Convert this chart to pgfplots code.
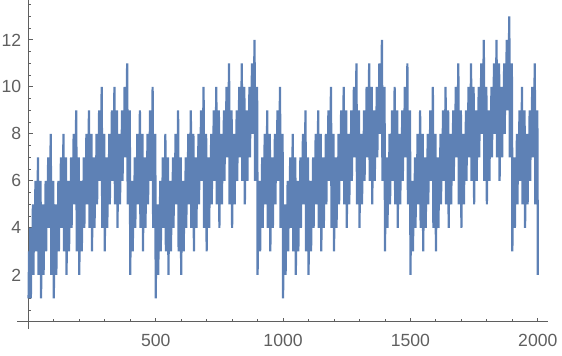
\documentclass[border=0pt]{standalone}
\usepackage{fontspec}
\setmainfont{Liberation Sans}
\usepackage{pgfplots}
\pgfplotsset{compat=1.18}
\usetikzlibrary{calc}
\definecolor{mblue}{RGB}{94,129,181}
\definecolor{axgray}{RGB}{95,95,95}
\begin{document}
\begin{tikzpicture}
\begin{axis}[
  name=ax,
  width=265.45pt, height=164.5pt, scale only axis,
  axis lines=middle,
  axis line style={-, axgray, line width=0.5pt},
  xmin=-44, xmax=2040, ymin=-0.3, ymax=13.7,
  xtick={500,1000,1500,2000},
  ytick={2,4,6,8,10,12},
  minor xtick={100,200,300,400,600,700,800,900,1100,1200,1300,1400,1600,1700,1800,1900},
  minor ytick={0.5,1,1.5,2.5,3,3.5,4.5,5,5.5,6.5,7,7.5,8.5,9,9.5,10.5,11,11.5,12.5,13,13.5},
  tick align=inside,
  major tick length=2.2pt, minor tick length=1.3pt,
  tick style={axgray, line width=0.45pt},
  ticklabel style={font=\fontsize{8.8}{10}\selectfont, text=axgray},
  xticklabel style={yshift=-2.5pt},
  /pgf/number format/assume math mode=true,
  /pgf/number format/1000 sep={},
  scaled ticks=false,
  clip=false,
]
\addplot[mblue, line width=1.1pt, line join=bevel, mark=none]
  table[header=false, row sep=\\, x expr=\coordindex+1, y index=0] {
1\\2\\3\\2\\1\\2\\3\\4\\2\\
1\\2\\3\\4\\3\\2\\3\\4\\5\\3\\
2\\3\\4\\5\\4\\3\\4\\5\\6\\4\\
3\\4\\5\\6\\5\\4\\5\\6\\7\\5\\
2\\3\\4\\5\\4\\3\\4\\5\\6\\4\\
1\\2\\3\\4\\3\\2\\3\\4\\5\\3\\
2\\3\\4\\5\\4\\3\\4\\5\\6\\4\\
3\\4\\5\\6\\5\\4\\5\\6\\7\\5\\
4\\5\\6\\7\\6\\5\\6\\7\\8\\6\\
2\\3\\4\\5\\4\\3\\4\\5\\6\\4\\
1\\2\\3\\4\\3\\2\\3\\4\\5\\3\\
2\\3\\4\\5\\4\\3\\4\\5\\6\\4\\
3\\4\\5\\6\\5\\4\\5\\6\\7\\5\\
4\\5\\6\\7\\6\\5\\6\\7\\8\\6\\
3\\4\\5\\6\\5\\4\\5\\6\\7\\5\\
2\\3\\4\\5\\4\\3\\4\\5\\6\\4\\
3\\4\\5\\6\\5\\4\\5\\6\\7\\5\\
4\\5\\6\\7\\6\\5\\6\\7\\8\\6\\
5\\6\\7\\8\\7\\6\\7\\8\\9\\7\\
3\\4\\5\\6\\5\\4\\5\\6\\7\\5\\
2\\3\\4\\5\\4\\3\\4\\5\\6\\4\\
3\\4\\5\\6\\5\\4\\5\\6\\7\\5\\
4\\5\\6\\7\\6\\5\\6\\7\\8\\6\\
5\\6\\7\\8\\7\\6\\7\\8\\9\\7\\
4\\5\\6\\7\\6\\5\\6\\7\\8\\6\\
3\\4\\5\\6\\5\\4\\5\\6\\7\\5\\
4\\5\\6\\7\\6\\5\\6\\7\\8\\6\\
5\\6\\7\\8\\7\\6\\7\\8\\9\\7\\
6\\7\\8\\9\\8\\7\\8\\9\\10\\8\\
4\\5\\6\\7\\6\\5\\6\\7\\8\\6\\
3\\4\\5\\6\\5\\4\\5\\6\\7\\5\\
4\\5\\6\\7\\6\\5\\6\\7\\8\\6\\
5\\6\\7\\8\\7\\6\\7\\8\\9\\7\\
6\\7\\8\\9\\8\\7\\8\\9\\10\\8\\
5\\6\\7\\8\\7\\6\\7\\8\\9\\7\\
4\\5\\6\\7\\6\\5\\6\\7\\8\\6\\
5\\6\\7\\8\\7\\6\\7\\8\\9\\7\\
6\\7\\8\\9\\8\\7\\8\\9\\10\\8\\
7\\8\\9\\10\\9\\8\\9\\10\\11\\9\\
5\\6\\7\\8\\7\\6\\7\\8\\9\\7\\
2\\3\\4\\5\\4\\3\\4\\5\\6\\4\\
3\\4\\5\\6\\5\\4\\5\\6\\7\\5\\
4\\5\\6\\7\\6\\5\\6\\7\\8\\6\\
5\\6\\7\\8\\7\\6\\7\\8\\9\\7\\
4\\5\\6\\7\\6\\5\\6\\7\\8\\6\\
3\\4\\5\\6\\5\\4\\5\\6\\7\\5\\
4\\5\\6\\7\\6\\5\\6\\7\\8\\6\\
5\\6\\7\\8\\7\\6\\7\\8\\9\\7\\
6\\7\\8\\9\\8\\7\\8\\9\\10\\8\\
4\\5\\6\\7\\6\\5\\6\\7\\8\\6\\
1\\2\\3\\4\\3\\2\\3\\4\\5\\3\\
2\\3\\4\\5\\4\\3\\4\\5\\6\\4\\
3\\4\\5\\6\\5\\4\\5\\6\\7\\5\\
4\\5\\6\\7\\6\\5\\6\\7\\8\\6\\
3\\4\\5\\6\\5\\4\\5\\6\\7\\5\\
2\\3\\4\\5\\4\\3\\4\\5\\6\\4\\
3\\4\\5\\6\\5\\4\\5\\6\\7\\5\\
4\\5\\6\\7\\6\\5\\6\\7\\8\\6\\
5\\6\\7\\8\\7\\6\\7\\8\\9\\7\\
3\\4\\5\\6\\5\\4\\5\\6\\7\\5\\
2\\3\\4\\5\\4\\3\\4\\5\\6\\4\\
3\\4\\5\\6\\5\\4\\5\\6\\7\\5\\
4\\5\\6\\7\\6\\5\\6\\7\\8\\6\\
5\\6\\7\\8\\7\\6\\7\\8\\9\\7\\
4\\5\\6\\7\\6\\5\\6\\7\\8\\6\\
3\\4\\5\\6\\5\\4\\5\\6\\7\\5\\
4\\5\\6\\7\\6\\5\\6\\7\\8\\6\\
5\\6\\7\\8\\7\\6\\7\\8\\9\\7\\
6\\7\\8\\9\\8\\7\\8\\9\\10\\8\\
4\\5\\6\\7\\6\\5\\6\\7\\8\\6\\
3\\4\\5\\6\\5\\4\\5\\6\\7\\5\\
4\\5\\6\\7\\6\\5\\6\\7\\8\\6\\
5\\6\\7\\8\\7\\6\\7\\8\\9\\7\\
6\\7\\8\\9\\8\\7\\8\\9\\10\\8\\
5\\6\\7\\8\\7\\6\\7\\8\\9\\7\\
4\\5\\6\\7\\6\\5\\6\\7\\8\\6\\
5\\6\\7\\8\\7\\6\\7\\8\\9\\7\\
6\\7\\8\\9\\8\\7\\8\\9\\10\\8\\
7\\8\\9\\10\\9\\8\\9\\10\\11\\9\\
5\\6\\7\\8\\7\\6\\7\\8\\9\\7\\
4\\5\\6\\7\\6\\5\\6\\7\\8\\6\\
5\\6\\7\\8\\7\\6\\7\\8\\9\\7\\
6\\7\\8\\9\\8\\7\\8\\9\\10\\8\\
7\\8\\9\\10\\9\\8\\9\\10\\11\\9\\
6\\7\\8\\9\\8\\7\\8\\9\\10\\8\\
5\\6\\7\\8\\7\\6\\7\\8\\9\\7\\
6\\7\\8\\9\\8\\7\\8\\9\\10\\8\\
7\\8\\9\\10\\9\\8\\9\\10\\11\\9\\
8\\9\\10\\11\\10\\9\\10\\11\\12\\10\\
6\\7\\8\\9\\8\\7\\8\\9\\10\\8\\
2\\3\\4\\5\\4\\3\\4\\5\\6\\4\\
3\\4\\5\\6\\5\\4\\5\\6\\7\\5\\
4\\5\\6\\7\\6\\5\\6\\7\\8\\6\\
5\\6\\7\\8\\7\\6\\7\\8\\9\\7\\
4\\5\\6\\7\\6\\5\\6\\7\\8\\6\\
3\\4\\5\\6\\5\\4\\5\\6\\7\\5\\
4\\5\\6\\7\\6\\5\\6\\7\\8\\6\\
5\\6\\7\\8\\7\\6\\7\\8\\9\\7\\
6\\7\\8\\9\\8\\7\\8\\9\\10\\8\\
4\\5\\6\\7\\6\\5\\6\\7\\8\\6\\
1\\2\\3\\4\\3\\2\\3\\4\\5\\3\\
2\\3\\4\\5\\4\\3\\4\\5\\6\\4\\
3\\4\\5\\6\\5\\4\\5\\6\\7\\5\\
4\\5\\6\\7\\6\\5\\6\\7\\8\\6\\
3\\4\\5\\6\\5\\4\\5\\6\\7\\5\\
2\\3\\4\\5\\4\\3\\4\\5\\6\\4\\
3\\4\\5\\6\\5\\4\\5\\6\\7\\5\\
4\\5\\6\\7\\6\\5\\6\\7\\8\\6\\
5\\6\\7\\8\\7\\6\\7\\8\\9\\7\\
3\\4\\5\\6\\5\\4\\5\\6\\7\\5\\
2\\3\\4\\5\\4\\3\\4\\5\\6\\4\\
3\\4\\5\\6\\5\\4\\5\\6\\7\\5\\
4\\5\\6\\7\\6\\5\\6\\7\\8\\6\\
5\\6\\7\\8\\7\\6\\7\\8\\9\\7\\
4\\5\\6\\7\\6\\5\\6\\7\\8\\6\\
3\\4\\5\\6\\5\\4\\5\\6\\7\\5\\
4\\5\\6\\7\\6\\5\\6\\7\\8\\6\\
5\\6\\7\\8\\7\\6\\7\\8\\9\\7\\
6\\7\\8\\9\\8\\7\\8\\9\\10\\8\\
4\\5\\6\\7\\6\\5\\6\\7\\8\\6\\
3\\4\\5\\6\\5\\4\\5\\6\\7\\5\\
4\\5\\6\\7\\6\\5\\6\\7\\8\\6\\
5\\6\\7\\8\\7\\6\\7\\8\\9\\7\\
6\\7\\8\\9\\8\\7\\8\\9\\10\\8\\
5\\6\\7\\8\\7\\6\\7\\8\\9\\7\\
4\\5\\6\\7\\6\\5\\6\\7\\8\\6\\
5\\6\\7\\8\\7\\6\\7\\8\\9\\7\\
6\\7\\8\\9\\8\\7\\8\\9\\10\\8\\
7\\8\\9\\10\\9\\8\\9\\10\\11\\9\\
5\\6\\7\\8\\7\\6\\7\\8\\9\\7\\
4\\5\\6\\7\\6\\5\\6\\7\\8\\6\\
5\\6\\7\\8\\7\\6\\7\\8\\9\\7\\
6\\7\\8\\9\\8\\7\\8\\9\\10\\8\\
7\\8\\9\\10\\9\\8\\9\\10\\11\\9\\
6\\7\\8\\9\\8\\7\\8\\9\\10\\8\\
5\\6\\7\\8\\7\\6\\7\\8\\9\\7\\
6\\7\\8\\9\\8\\7\\8\\9\\10\\8\\
7\\8\\9\\10\\9\\8\\9\\10\\11\\9\\
8\\9\\10\\11\\10\\9\\10\\11\\12\\10\\
6\\7\\8\\9\\8\\7\\8\\9\\10\\8\\
3\\4\\5\\6\\5\\4\\5\\6\\7\\5\\
4\\5\\6\\7\\6\\5\\6\\7\\8\\6\\
5\\6\\7\\8\\7\\6\\7\\8\\9\\7\\
6\\7\\8\\9\\8\\7\\8\\9\\10\\8\\
5\\6\\7\\8\\7\\6\\7\\8\\9\\7\\
4\\5\\6\\7\\6\\5\\6\\7\\8\\6\\
5\\6\\7\\8\\7\\6\\7\\8\\9\\7\\
6\\7\\8\\9\\8\\7\\8\\9\\10\\8\\
7\\8\\9\\10\\9\\8\\9\\10\\11\\9\\
5\\6\\7\\8\\7\\6\\7\\8\\9\\7\\
2\\3\\4\\5\\4\\3\\4\\5\\6\\4\\
3\\4\\5\\6\\5\\4\\5\\6\\7\\5\\
4\\5\\6\\7\\6\\5\\6\\7\\8\\6\\
5\\6\\7\\8\\7\\6\\7\\8\\9\\7\\
4\\5\\6\\7\\6\\5\\6\\7\\8\\6\\
3\\4\\5\\6\\5\\4\\5\\6\\7\\5\\
4\\5\\6\\7\\6\\5\\6\\7\\8\\6\\
5\\6\\7\\8\\7\\6\\7\\8\\9\\7\\
6\\7\\8\\9\\8\\7\\8\\9\\10\\8\\
4\\5\\6\\7\\6\\5\\6\\7\\8\\6\\
3\\4\\5\\6\\5\\4\\5\\6\\7\\5\\
4\\5\\6\\7\\6\\5\\6\\7\\8\\6\\
5\\6\\7\\8\\7\\6\\7\\8\\9\\7\\
6\\7\\8\\9\\8\\7\\8\\9\\10\\8\\
5\\6\\7\\8\\7\\6\\7\\8\\9\\7\\
4\\5\\6\\7\\6\\5\\6\\7\\8\\6\\
5\\6\\7\\8\\7\\6\\7\\8\\9\\7\\
6\\7\\8\\9\\8\\7\\8\\9\\10\\8\\
7\\8\\9\\10\\9\\8\\9\\10\\11\\9\\
5\\6\\7\\8\\7\\6\\7\\8\\9\\7\\
4\\5\\6\\7\\6\\5\\6\\7\\8\\6\\
5\\6\\7\\8\\7\\6\\7\\8\\9\\7\\
6\\7\\8\\9\\8\\7\\8\\9\\10\\8\\
7\\8\\9\\10\\9\\8\\9\\10\\11\\9\\
6\\7\\8\\9\\8\\7\\8\\9\\10\\8\\
5\\6\\7\\8\\7\\6\\7\\8\\9\\7\\
6\\7\\8\\9\\8\\7\\8\\9\\10\\8\\
7\\8\\9\\10\\9\\8\\9\\10\\11\\9\\
8\\9\\10\\11\\10\\9\\10\\11\\12\\10\\
6\\7\\8\\9\\8\\7\\8\\9\\10\\8\\
5\\6\\7\\8\\7\\6\\7\\8\\9\\7\\
6\\7\\8\\9\\8\\7\\8\\9\\10\\8\\
7\\8\\9\\10\\9\\8\\9\\10\\11\\9\\
8\\9\\10\\11\\10\\9\\10\\11\\12\\10\\
7\\8\\9\\10\\9\\8\\9\\10\\11\\9\\
6\\7\\8\\9\\8\\7\\8\\9\\10\\8\\
7\\8\\9\\10\\9\\8\\9\\10\\11\\9\\
8\\9\\10\\11\\10\\9\\10\\11\\12\\10\\
9\\10\\11\\12\\11\\10\\11\\12\\13\\11\\
7\\8\\9\\10\\9\\8\\9\\10\\11\\9\\
3\\4\\5\\6\\5\\4\\5\\6\\7\\5\\
4\\5\\6\\7\\6\\5\\6\\7\\8\\6\\
5\\6\\7\\8\\7\\6\\7\\8\\9\\7\\
6\\7\\8\\9\\8\\7\\8\\9\\10\\8\\
5\\6\\7\\8\\7\\6\\7\\8\\9\\7\\
4\\5\\6\\7\\6\\5\\6\\7\\8\\6\\
5\\6\\7\\8\\7\\6\\7\\8\\9\\7\\
6\\7\\8\\9\\8\\7\\8\\9\\10\\8\\
7\\8\\9\\10\\9\\8\\9\\10\\11\\9\\
5\\6\\7\\8\\7\\6\\7\\8\\9\\7\\
2\\
};
\end{axis}
\pgfresetboundingbox
\path[use as bounding box] ([shift={(-8.55pt,-13.5pt)}]ax.south west) rectangle ([shift={(272.45pt,164.5pt)}]ax.south west);
\end{tikzpicture}
\end{document}
